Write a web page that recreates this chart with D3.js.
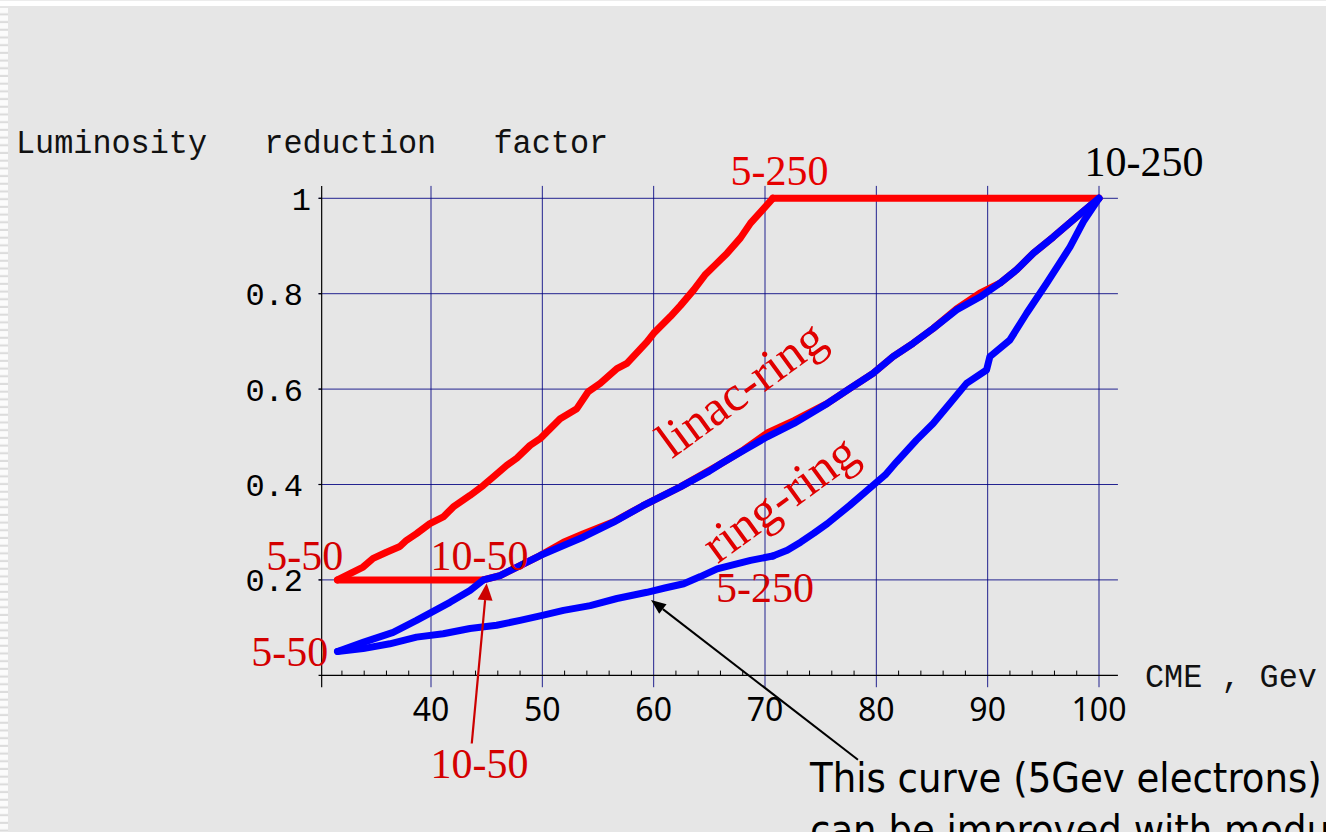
<!DOCTYPE html>
<html><head><meta charset="utf-8">
<script src="https://cdn.jsdelivr.net/npm/d3@7"></script>
<style>html,body{margin:0;padding:0;background:#e6e6e6;overflow:hidden}</style>
</head><body>
<svg id="chart" width="1326" height="832"></svg>
<script>
// ---------- data ----------
const xTicks = [40, 50, 60, 70, 80, 90, 100];
const xTickLabels = ["40", "50", "60", "70", "80", "90", "100"];
const yTicks = [0.2, 0.4, 0.6, 0.8, 1];
const yTickLabels = ["0.2", "0.4", "0.6", "0.8", "1"];
const xMinorTicks = [32, 34, 36, 38, 42, 44, 46, 48, 52, 54, 56, 58, 62, 64, 66, 68, 72, 74, 76, 78, 82, 84, 86, 88, 92, 94, 96, 98];

const titleWords = ["Luminosity", "reduction", "factor"];
const xAxisTitle = "CME , Gev";

// linac-ring (red)
const linacE5 = [[31.6,0.200],[33.9,0.227],[34.8,0.245],[36.0,0.258],[37.2,0.270],[37.8,0.283],[38.7,0.297],[39.9,0.318],[41.1,0.332],[42.0,0.353],[43.5,0.377],[44.7,0.398],[45.6,0.416],[46.8,0.440],[47.7,0.455],[48.9,0.482],[49.8,0.496],[51.6,0.538],[53.1,0.559],[54.1,0.594],[55.2,0.612],[56.7,0.643],[57.6,0.654],[59.4,0.699],[60.0,0.717],[61.5,0.752],[62.4,0.775],[63.6,0.808],[64.6,0.839],[65.6,0.862],[66.6,0.885],[67.8,0.917],[68.7,0.948],[69.9,0.979],[70.7,1.000]];
const linacEp250 = [[70.7,1.0],[100,1.0]];
const linacEp50 = [[31.6,0.2],[44.7,0.2]];
const linacE10 = [[44.7,0.200],[46.2,0.209],[48.0,0.230],[49.8,0.251],[51.9,0.279],[53.7,0.297],[56.4,0.322],[59.0,0.355],[62.4,0.395],[66.0,0.443],[68.1,0.473],[70.2,0.508],[72.6,0.534],[75.6,0.570],[77.6,0.601],[79.7,0.633],[81.5,0.668],[83.3,0.696],[85.1,0.727],[87.2,0.768],[89.3,0.801],[91.1,0.822],[92.6,0.850],[94.1,0.885],[95.9,0.919],[98.0,0.961],[100,1.000]];

// ring-ring (blue)
const ringUpper = [[31.6,0.050],[33.9,0.069],[36.6,0.090],[38.7,0.115],[41.7,0.153],[43.5,0.178],[44.7,0.200],[46.2,0.209],[48.0,0.230],[49.8,0.251],[51.9,0.272],[53.7,0.290],[56.4,0.321],[59.0,0.355],[62.4,0.395],[65.0,0.428],[66.0,0.443],[68.1,0.472],[70.2,0.500],[72.6,0.528],[75.6,0.570],[77.6,0.601],[79.7,0.633],[81.5,0.668],[83.3,0.696],[85.1,0.727],[87.2,0.766],[89.3,0.793],[91.1,0.822],[92.6,0.850],[94.1,0.885],[95.9,0.919],[98.0,0.961],[100,1.000]];
const ringE5 = [[31.6,0.050],[33.9,0.056],[36.3,0.066],[38.7,0.080],[41.1,0.087],[43.5,0.098],[45.9,0.105],[48.0,0.115],[50.1,0.126],[51.9,0.136],[54.3,0.146],[56.7,0.161],[59.4,0.174],[61.0,0.183],[62.7,0.192],[64.2,0.207],[65.7,0.223],[67.2,0.232],[68.7,0.241],[70.7,0.250]];
const ringEp250 = [[70.7,0.250],[72.0,0.262],[73.2,0.279],[74.4,0.298],[75.6,0.318],[77.6,0.356],[79.7,0.398],[80.8,0.420],[81.8,0.447],[82.7,0.470],[83.6,0.493],[85.1,0.528],[86.6,0.570],[88.1,0.612],[89.9,0.640],[90.2,0.668],[92.0,0.703],[93.5,0.759],[95.3,0.822],[97.4,0.898],[98.6,0.951],[100,1.000]];

// point labels (data coordinates of text baseline start)
const pointLabelText = ["5-250", "10-250", "5-50", "10-50", "5-50", "5-250", "10-50"];
const pointLabelX = [66.9, 98.7, 25.2, 39.95, 23.85, 65.6, 39.95];
const pointLabelY = [1.027, 1.047, 0.221, 0.221, 0.0195, 0.153, -0.215];
const pointLabelColor = ["#e60000", "#000000", "#d40000", "#d40000", "#d40000", "#d40000", "#d40000"];

// rotated curve names (data coordinates of centre)
const curveNames = ["linac-ring", "ring-ring"];
const curveNameX = [67.9, 71.4];
const curveNameY = [0.598, 0.368];

// arrows [from, to] in data coordinates
const redArrow = [[43.66, -0.143], [45.0, 0.193]];
const blackArrow = [[78.35, -0.177], [59.76, 0.158]];

const noteLines = ["This curve (5Gev electrons)", "can be improved with modu"];

// ---------- drawing ----------
const W = 1326, H = 832;
const svg = d3.select("#chart");

const x = d3.scaleLinear().domain([40, 100]).range([431, 1099]);
const y = d3.scaleLinear().domain([0, 1]).range([675.3, 198.3]);
const xLo = 29.9, xHi = 101.7, yLo = -0.025, yHi = 1.026, xAxisPos = 30.18;

// background and frame decoration
const defs = svg.append("defs");
const pat = defs.append("pattern").attr("id", "stripes").attr("patternUnits", "userSpaceOnUse")
  .attr("width", 8).attr("height", 7.7);
pat.append("rect").attr("width", 8).attr("height", 7.7).attr("fill", "#dcdcdc");
pat.append("rect").attr("width", 8).attr("height", 5.6).attr("fill", "#fbfbfb");

svg.append("rect").attr("width", W).attr("height", H).attr("fill", "#e6e6e6");
svg.append("rect").attr("x", 0).attr("y", 0).attr("width", W).attr("height", 6).attr("fill", "#ffffff");
svg.append("rect").attr("x", 0).attr("y", 0).attr("width", W).attr("height", 1).attr("fill", "#ececec");
svg.append("rect").attr("x", 0).attr("y", 7).attr("width", 8).attr("height", H - 7).attr("fill", "url(#stripes)");

// grid
const grid = svg.append("g").attr("stroke", "#000080").attr("stroke-width", 1).attr("stroke-opacity", 0.85);
grid.selectAll("line.v").data(xTicks).join("line")
  .attr("x1", d => x(d)).attr("x2", d => x(d)).attr("y1", y(yHi)).attr("y2", y(yLo));
grid.selectAll("line.h").data(yTicks).join("line")
  .attr("y1", d => y(d)).attr("y2", d => y(d)).attr("x1", x(xLo)).attr("x2", x(xHi));

// axes
const ax = svg.append("g").attr("stroke", "#000").attr("stroke-width", 1.2);
ax.append("line").attr("x1", x(xAxisPos)).attr("x2", x(xAxisPos)).attr("y1", y(yHi)).attr("y2", y(yLo));
ax.append("line").attr("x1", x(xLo)).attr("x2", x(xHi)).attr("y1", y(0)).attr("y2", y(0));
ax.selectAll("line.mt").data(xMinorTicks).join("line")
  .attr("x1", d => x(d)).attr("x2", d => x(d)).attr("y1", y(0)).attr("y2", y(0) - 4.7).attr("stroke-width", 1);
ax.selectAll("line.yt").data(yTicks).join("line")
  .attr("x1", x(xLo)).attr("x2", x(xAxisPos)).attr("y1", d => y(d)).attr("y2", d => y(d));

// tick labels
svg.append("g").attr("font-family", "'Noto Sans', 'Open Sans', sans-serif").attr("font-size", 32)
  .attr("text-anchor", "middle").attr("fill", "#000")
  .selectAll("text").data(xTicks).join("text")
  .attr("x", d => x(d)).attr("y", y(0) + 46).text((d, i) => xTickLabels[i]);
svg.append("g").attr("font-family", "'Liberation Mono', monospace").attr("font-size", 32)
  .attr("text-anchor", "end").attr("fill", "#000")
  .selectAll("text").data(yTicks).join("text")
  .attr("x", (d, i) => yTickLabels[i].includes(".") ? 303 : 311)
  .attr("y", d => y(d) + 11.5).text((d, i) => yTickLabels[i]);

// titles (Courier-like monospace)
const adv = 19.1;
const titleStarts = [0, 13, 25];
svg.append("g").attr("font-family", "'Liberation Mono', monospace").attr("font-size", 33).attr("fill", "#111")
  .selectAll("text").data(titleWords).join("text")
  .attr("x", (d, i) => 16 + titleStarts[i] * adv).attr("y", 152.7)
  .attr("textLength", d => d.length * adv).attr("lengthAdjust", "spacingAndGlyphs")
  .text(d => d);
svg.append("text").attr("font-family", "'Liberation Mono', monospace").attr("font-size", 33).attr("fill", "#111")
  .attr("x", 1145).attr("y", 686.5).style("white-space", "pre")
  .attr("textLength", xAxisTitle.length * adv).attr("lengthAdjust", "spacingAndGlyphs")
  .text(xAxisTitle);

// curves
const line = d3.line().x(d => x(d[0])).y(d => y(d[1]));
const curves = svg.append("g").attr("fill", "none").attr("stroke-width", 7)
  .attr("stroke-linejoin", "round").attr("stroke-linecap", "round");
[linacE5, linacEp250, linacEp50, linacE10].forEach(s =>
  curves.append("path").attr("d", line(s)).attr("stroke", "#ff0000"));
[ringUpper, ringE5, ringEp250].forEach(s =>
  curves.append("path").attr("d", line(s)).attr("stroke", "#0000ff"));

// point labels
svg.append("g").attr("font-family", "'Liberation Serif', serif").attr("font-size", 42)
  .selectAll("text").data(pointLabelText).join("text")
  .attr("x", (d, i) => x(pointLabelX[i])).attr("y", (d, i) => y(pointLabelY[i]))
  .attr("fill", (d, i) => pointLabelColor[i]).text(d => d);

// rotated curve names
svg.append("g").attr("font-family", "'Liberation Serif', serif").attr("font-size", 50).attr("fill", "#e00000")
  .attr("text-anchor", "middle")
  .selectAll("text").data(curveNames).join("text")
  .attr("transform", (d, i) => `translate(${x(curveNameX[i])},${y(curveNameY[i])}) rotate(-36)`)
  .attr("dy", "0.3em").text(d => d);

// arrows
function arrow(pts, color, width, headLen, headW) {
  const p0 = [x(pts[0][0]), y(pts[0][1])], p1 = [x(pts[1][0]), y(pts[1][1])];
  const dx = p1[0] - p0[0], dy = p1[1] - p0[1], L = Math.hypot(dx, dy);
  const ux = dx / L, uy = dy / L;
  const bx = p1[0] - ux * headLen, by = p1[1] - uy * headLen;
  svg.append("line").attr("x1", p0[0]).attr("y1", p0[1]).attr("x2", bx).attr("y2", by)
    .attr("stroke", color).attr("stroke-width", width);
  svg.append("path").attr("fill", color)
    .attr("d", `M${p1[0]},${p1[1]}L${bx - uy * headW / 2},${by + ux * headW / 2}L${bx + uy * headW / 2},${by - ux * headW / 2}Z`);
}
arrow(redArrow, "#cc0000", 2.2, 17, 15);
arrow(blackArrow, "#000000", 2, 15, 12);

// note text
const note = svg.append("g").attr("font-family", "'DejaVu Sans', sans-serif").attr("font-size", 41).attr("fill", "#000");
const t1 = note.append("text").attr("x", 0).attr("y", 791.7).text(noteLines[0]);
const s = 512 / t1.node().getComputedTextLength();
note.attr("transform", `translate(810,0) scale(${s},1)`);
note.append("text").attr("x", 0).attr("y", 844).text(noteLines[1]);
</script>
</body></html>
